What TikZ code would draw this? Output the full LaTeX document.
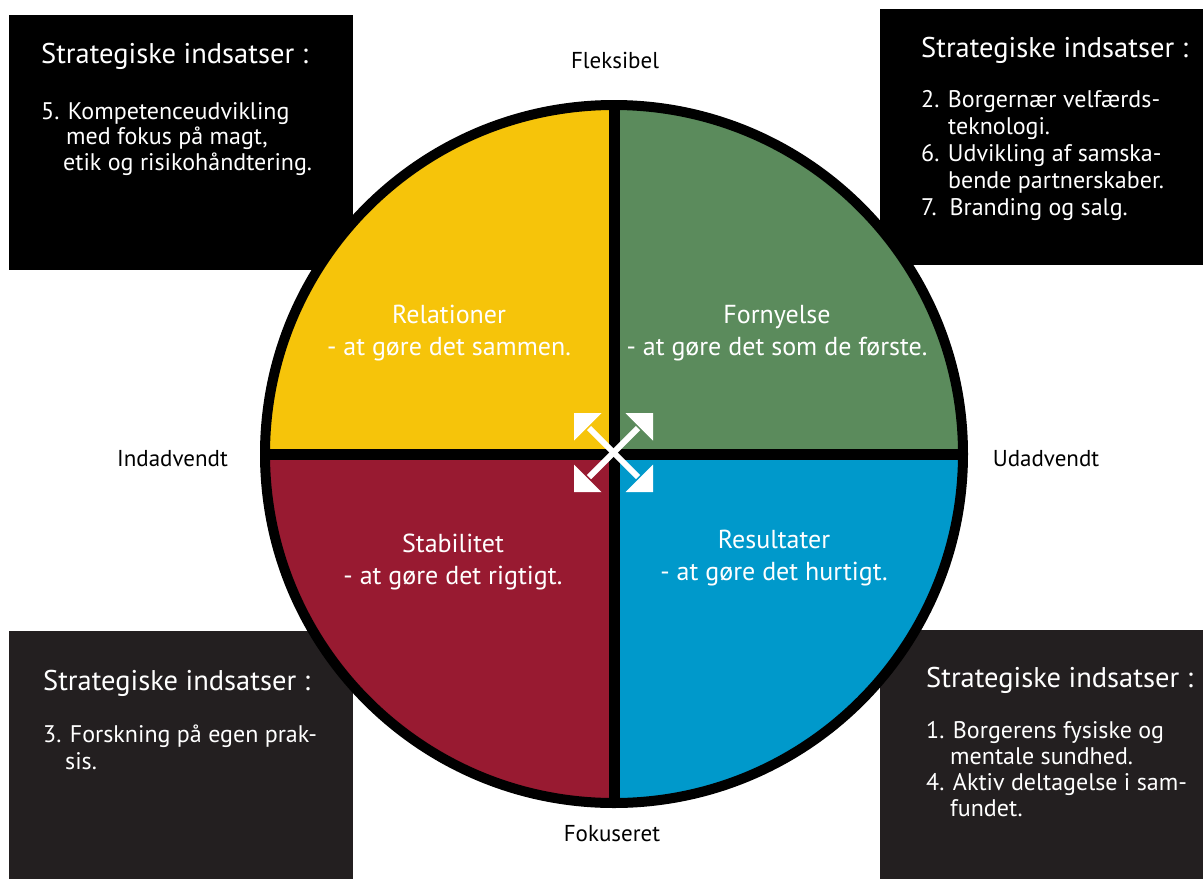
\documentclass[tikz,border=0pt]{standalone}
\usepackage{fontspec}
\setmainfont{PT Sans}
\definecolor{qyellow}{HTML}{F6C40A}
\definecolor{qgreen}{HTML}{5B8B5C}
\definecolor{qred}{HTML}{981A31}
\definecolor{qblue}{HTML}{0099CB}
\definecolor{boxtop}{HTML}{000000}
\definecolor{boxbot}{HTML}{231F20}
\begin{document}
\begin{tikzpicture}[x=1pt,y=-1pt,
  infobox/.style={fill=#1, draw=none},
  head/.style={text=white, font=\fontsize{28.5}{30}\selectfont, anchor=base west, inner sep=0},
  body/.style={text=white, font=\fontsize{24}{#1}\selectfont, anchor=base west, inner sep=0, align=left},
  quad/.style={text=white, font=\fontsize{26}{32}\selectfont, align=center, inner sep=0, anchor=base},
  side/.style={text=black, font=\fontsize{23}{26}\selectfont, anchor=base, inner sep=0},
  shaft/.style={draw=white, line width=6},
  tiphead/.style={fill=white},
]
\path[use as bounding box, fill=white] (0,0) rectangle (1203,879);
% info boxes (behind the circle)
\fill[infobox=boxtop] (9,15) rectangle (353,270);
\fill[infobox=boxtop] (880,9) rectangle (1203,265);
\fill[infobox=boxbot] (9,631) rectangle (353,879);
\fill[infobox=boxbot] (880,630) rectangle (1203,879);
% circle
\coordinate (c) at (614,454);
\begin{scope}
  \clip (c) circle[radius=349];
  \fill[qyellow] (c) rectangle ++(-360,-360);
  \fill[qgreen] (c) rectangle ++(360,-360);
  \fill[qred] (c) rectangle ++(-360,360);
  \fill[qblue] (c) rectangle ++(360,360);
\end{scope}
\coordinate (cw) at (265,454);
\coordinate (ce) at (963,454);
\coordinate (cn) at (614,105);
\coordinate (cs) at (614,803);
\draw[line width=11] (cw) -- (ce);
\draw[line width=11] (cn) -- (cs);
\draw[line width=10] (c) circle[radius=349];
% centre arrows
\coordinate (aul) at (589,428);
\coordinate (aur) at (638,428);
\coordinate (all) at (589,477);
\coordinate (alr) at (638,477);
\draw[shaft] (aul) -- (alr);
\draw[shaft] (aur) -- (all);
\fill[tiphead] (574,413) -- (601.5,413) -- (574,440.5) -- cycle;
\fill[tiphead] (653,413) -- (625.5,413) -- (653,440.5) -- cycle;
\fill[tiphead] (574,492) -- (601.5,492) -- (574,464.5) -- cycle;
\fill[tiphead] (653,492) -- (625.5,492) -- (653,464.5) -- cycle;
% quadrant labels (anchor = baseline of last line)
\node[quad] (rel) at (449,355.5) {Relationer\\- at gøre det sammen.};
\node[quad] (forn) at (777,355.5) {Fornyelse\\- at gøre det som de første.};
\node[quad] (stab) at (453,584) {Stabilitet\\- at gøre det rigtigt.};
\node[quad] (res) at (774,580.5) {Resultater\\- at gøre det hurtigt.};
% axis labels
\node[side] (flex) at (615,68) {Fleksibel};
\node[side] (ind) at (172.5,466) {Indadvendt};
\node[side] (ud) at (1046,466) {Udadvendt};
\node[side] (fok) at (612,841) {Fokuseret};
% box texts (body anchor = baseline of last line)
\node[head] (h1) at (41,63) {Strategiske indsatser :};
\node[body=25.5] (b1) at (41,170) {5. Kompetenceudvikling\\\hspace*{25pt}med fokus på magt,\\\hspace*{22pt}etik og risikohåndtering.};
\node[head] (h2) at (921,57) {Strategiske indsatser :};
\node[body=27] (b2) at (921,215) {2. Borgernær velfærds-\\\hspace*{27pt}teknologi.\\6. Udvikling af samska-\\\hspace*{27pt}bende partnerskaber.\\7.\ \ Branding og salg.};
\node[head] (h3) at (43,690) {Strategiske indsatser :};
\node[body=27] (b3) at (43,769) {3. Forskning på egen prak-\\\hspace*{22pt}sis.};
\node[head] (h4) at (926,687) {Strategiske indsatser :};
\node[body=26] (b4) at (926,816) {1. Borgerens fysiske og\\\hspace*{24pt}mentale sundhed.\\4. Aktiv deltagelse i sam-\\\hspace*{24pt}fundet.};
\end{tikzpicture}
\end{document}
